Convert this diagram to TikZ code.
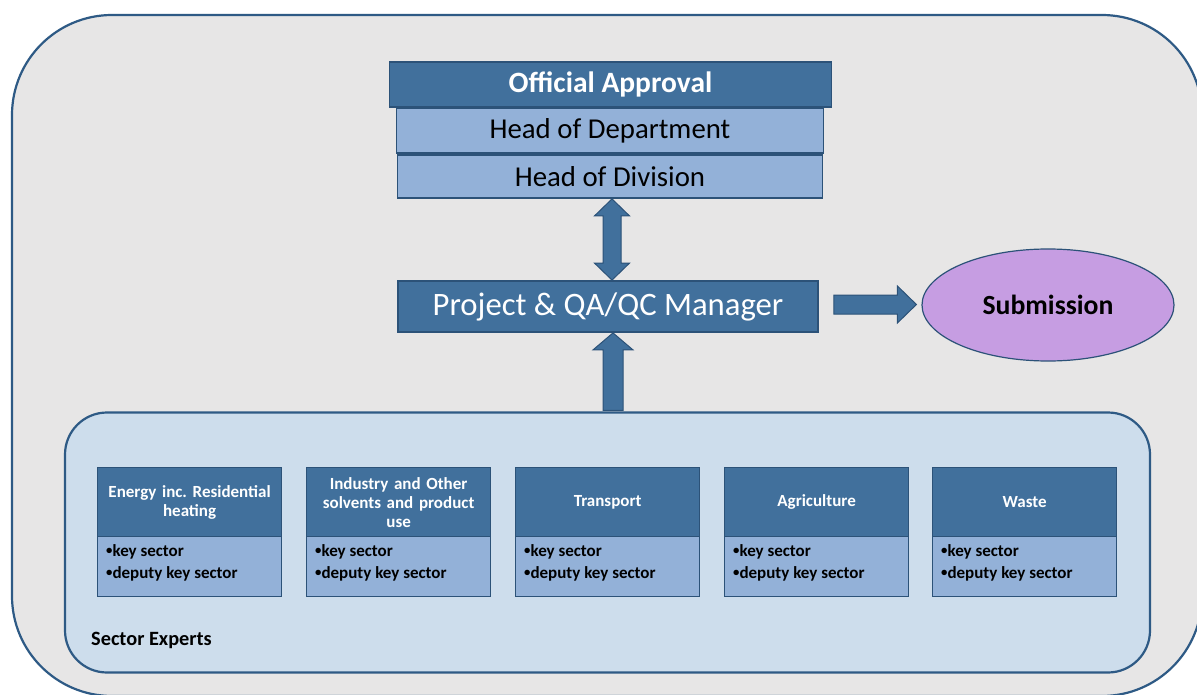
\documentclass[tikz,border=0pt]{standalone}
\usepackage{fontspec}
\setmainfont{Carlito}
\usetikzlibrary{calc,shapes.geometric}
\definecolor{pagebg}{HTML}{E7E6E6}
\definecolor{frameline}{HTML}{2E5A85}
\definecolor{darkblue}{HTML}{41709C}
\definecolor{boxline}{HTML}{2C5278}
\definecolor{lightblue}{HTML}{93B1D8}
\definecolor{contfill}{HTML}{CDDDEC}
\definecolor{subfill}{HTML}{C69DE2}
\newcommand{\smallbul}{\raisebox{1.2pt}{\scalebox{0.75}{•}}}
\tikzset{
  darkbox/.style={draw=boxline, fill=darkblue, text=white, line width=1.8pt, inner sep=0pt},
  lightbox/.style={draw=boxline, fill=lightblue, text=black, line width=1.8pt, inner sep=0pt},
  celltitle/.style={draw=boxline, fill=darkblue, text=white, line width=1.2pt, inner sep=0pt,
    minimum width=184pt, minimum height=69pt, anchor=north west, align=center, text width=178pt,
    font=\bfseries\fontsize{17}{19}\selectfont},
  cellbody/.style={draw=boxline, fill=lightblue, line width=1.2pt, inner sep=0pt,
    minimum width=184pt, minimum height=60pt, anchor=north west},
  celltext/.style={anchor=north west, inner sep=0pt, align=left, text=black,
    font=\bfseries\fontsize{17}{22}\selectfont},
  bigarrow/.style={fill=darkblue, draw=boxline, line width=1pt, line join=miter},
}
\begin{document}
\begin{tikzpicture}[x=1pt,y=-1pt]
\useasboundingbox (0,0) rectangle (1197,695);
\fill[white] (0,0) rectangle (1197,695);
% outer frame
\node[draw=frameline, fill=pagebg, line width=2.2pt, rounded corners=100pt,
  minimum width=1190pt, minimum height=681pt, inner sep=0pt] (frame) at (607,355.5) {};
% top stack
\node[darkbox, minimum width=442pt, minimum height=45pt,
  font=\bfseries\fontsize{29.5}{31}\selectfont] (oa) at (610.5,84.5) {Official Approval};
\node[lightbox, minimum width=427pt, minimum height=45pt,
  font=\fontsize{28.8}{30}\selectfont] (hod) at (610,130.5) {Head of Department};
\node[lightbox, minimum width=425pt, minimum height=43pt,
  font=\fontsize{28.8}{30}\selectfont] (hdv) at (610,176.5) {Head of Division};
% manager
\node[darkbox, minimum width=420pt, minimum height=51pt,
  font=\fontsize{32.7}{34}\selectfont] (mgr) at (608,306.5) {Project \& QA/QC Manager};
% submission
\node[ellipse, draw=boxline, fill=subfill, line width=1.2pt, minimum width=252pt, minimum height=112pt,
  inner sep=0pt, font=\bfseries\fontsize{27.7}{29}\selectfont] (sub) at (1048,305) {Submission};
% sector container
\node[draw=frameline, fill=contfill, line width=2.2pt, rounded corners=42pt,
  minimum width=1085pt, minimum height=260pt, inner sep=0pt] (sec) at (607.5,542.5) {};
\node[anchor=west, inner sep=0pt, font=\bfseries\fontsize{20.3}{22}\selectfont] (se) at (91,640) {Sector Experts};
% sector cells
\foreach \n/\x/\t in {a/97/{Energy inc.\ Residential\\heating},
                      b/306/{Industry and Other\\solvents and product\\use},
                      c/515/{Transport},
                      d/724/{Agriculture},
                      e/932/{Waste}}{
  \node[celltitle] (t\n) at (\x,467) {\t};
  \node[cellbody] (b\n) at (\x,536) {};
  \node[celltext] (x\n) at (\x+9,544) {\smallbul key sector\\\smallbul deputy key sector};
}
% double arrow
\coordinate (dx) at (612,0);
\coordinate (t1) at (hdv.south -| dx);
\coordinate (t2) at (mgr.north -| dx);
\filldraw[bigarrow] (t1) -- ($(t1)+(17.5,17)$) -- ($(t1)+(9,17)$) -- ($(t2)+(9,-17)$)
  -- ($(t2)+(17.5,-17)$) -- (t2) -- ($(t2)+(-17.5,-17)$) -- ($(t2)+(-9,-17)$)
  -- ($(t1)+(-9,17)$) -- ($(t1)+(-17.5,17)$) -- cycle;
% up arrow
\coordinate (ux) at (613,0);
\coordinate (u1) at (mgr.south -| ux);
\coordinate (u2) at (sec.north -| ux);
\filldraw[bigarrow] (u1) -- ($(u1)+(20,17)$) -- ($(u1)+(10,17)$) -- ($(u2)+(10,-1)$)
  -- ($(u2)+(-10,-1)$) -- ($(u1)+(-10,17)$) -- ($(u1)+(-20,17)$) -- cycle;
% right arrow
\coordinate (r1) at ($(mgr.east)+(15,-2)$);
\coordinate (r2) at ($(sub.west)+(-5,0)$);
\coordinate (r2) at (r2 |- r1);
\filldraw[bigarrow] ($(r1)+(0,-9.5)$) -- ($(r2)+(-19,-9.5)$) -- ($(r2)+(-19,-18.5)$) -- (r2)
  -- ($(r2)+(-19,18.5)$) -- ($(r2)+(-19,9.5)$) -- ($(r1)+(0,9.5)$) -- cycle;
\end{tikzpicture}
\end{document}
